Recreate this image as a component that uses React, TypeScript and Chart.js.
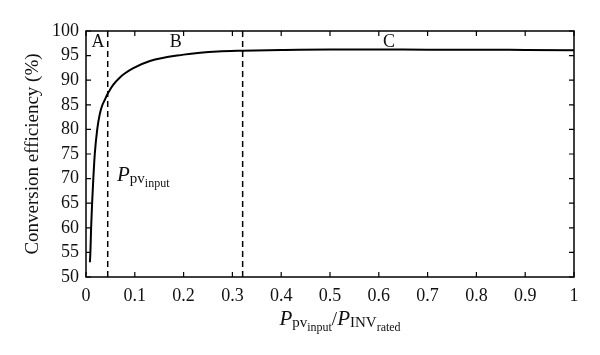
import React, { useEffect, useRef } from "react";
import { Chart, registerables } from "chart.js";

Chart.register(...registerables);

const ratioX = [0.008, 0.009, 0.0105, 0.0125, 0.015, 0.018, 0.023, 0.028, 0.033, 0.039, 0.0436, 0.05, 0.056, 0.07, 0.08, 0.096, 0.131, 0.2, 0.234, 0.27, 0.32, 0.4, 0.5, 0.6, 0.7, 0.8, 0.9, 1.0];
const efficiency = [53, 55, 60, 65, 70, 75, 80, 83, 84.8, 86.1, 87.1, 88.2, 89.1, 90.6, 91.4, 92.4, 93.9, 95.2, 95.6, 95.85, 96.0, 96.15, 96.25, 96.25, 96.2, 96.2, 96.15, 96.1];
const boundaries = [0.0445, 0.321];
const regionLabels = ["A", "B", "C"];
const regionLabelX = [0.0246, 0.184, 0.621];
const yRange = [50, 100];

const SERIF = "'Liberation Serif', 'DejaVu Serif', serif";

type Seg = { t: string; size: number; dy: number; italic?: boolean };

function segWidth(ctx: CanvasRenderingContext2D, segs: Seg[]) {
  let w = 0;
  for (const s of segs) {
    ctx.font = `${s.italic ? "italic " : ""}${s.size}px ${SERIF}`;
    w += ctx.measureText(s.t).width;
  }
  return w;
}

function drawRich(ctx: CanvasRenderingContext2D, x: number, y: number, segs: Seg[]) {
  let cx = x;
  for (const s of segs) {
    ctx.font = `${s.italic ? "italic " : ""}${s.size}px ${SERIF}`;
    ctx.fillText(s.t, cx, y + s.dy);
    cx += ctx.measureText(s.t).width;
  }
}

const decorPlugin = {
  id: "decor",
  afterDraw(chart: any) {
    const ctx: CanvasRenderingContext2D = chart.ctx;
    const { left, right, top, bottom } = chart.chartArea;
    const xs = chart.scales.x;
    const ys = chart.scales.y;
    ctx.save();
    ctx.strokeStyle = "#000";
    ctx.lineWidth = 1.5;
    ctx.strokeRect(left, top, right - left, bottom - top);
    ctx.lineWidth = 1.2;
    const tl = 5;
    ctx.beginPath();
    xs.ticks.forEach((t: any) => {
      const px = xs.getPixelForValue(t.value);
      ctx.moveTo(px, bottom);
      ctx.lineTo(px, bottom - tl);
      ctx.moveTo(px, top);
      ctx.lineTo(px, top + tl);
    });
    ys.ticks.forEach((t: any) => {
      const py = ys.getPixelForValue(t.value);
      ctx.moveTo(left, py);
      ctx.lineTo(left + tl, py);
      ctx.moveTo(right, py);
      ctx.lineTo(right - tl, py);
    });
    ctx.stroke();

    ctx.fillStyle = "#111";
    ctx.textBaseline = "alphabetic";
    ctx.textAlign = "center";
    ctx.font = `18px ${SERIF}`;
    regionLabels.forEach((l, i) => {
      ctx.fillText(l, xs.getPixelForValue(regionLabelX[i]), top + 16);
    });

    ctx.textAlign = "left";
    drawRich(ctx, 117, 181, [
      { t: "P", size: 21, dy: 0, italic: true },
      { t: "pv", size: 15, dy: 2 },
      { t: "input", size: 12, dy: 6 },
    ]);

    const xt: Seg[] = [
      { t: "P", size: 21, dy: 0, italic: true },
      { t: "pv", size: 15, dy: 2 },
      { t: "input", size: 12, dy: 6 },
      { t: "/", size: 19, dy: 0 },
      { t: "P", size: 21, dy: 0, italic: true },
      { t: "INV", size: 15, dy: 2 },
      { t: "rated", size: 12, dy: 6 },
    ];
    const w = segWidth(ctx, xt);
    drawRich(ctx, 340 - w / 2, 325, xt);

    ctx.save();
    ctx.translate(38, (top + bottom) / 2);
    ctx.rotate(-Math.PI / 2);
    ctx.textAlign = "center";
    ctx.font = `19px ${SERIF}`;
    ctx.fillText("Conversion efficiency (%)", 0, 0);
    ctx.restore();
    ctx.restore();
  },
};

export default function App() {
  const ref = useRef<HTMLCanvasElement | null>(null);
  useEffect(() => {
    if (!ref.current) return;
    const datasets: any[] = [
      {
        data: ratioX.map((x, i) => ({ x, y: efficiency[i] })),
        borderColor: "#000",
        borderWidth: 2,
        pointRadius: 0,
        showLine: true,
        cubicInterpolationMode: "monotone",
      },
      ...boundaries.map((b) => ({
        data: [
          { x: b, y: yRange[0] },
          { x: b, y: yRange[1] },
        ],
        borderColor: "#000",
        borderWidth: 1.5,
        borderDash: [6, 4],
        pointRadius: 0,
        showLine: true,
      })),
    ];
    const chart = new Chart(ref.current, {
      type: "scatter",
      data: { datasets },
      options: {
        animation: false,
        responsive: false,
        maintainAspectRatio: false,
        layout: { padding: { top: 31, right: 26, left: 0, bottom: 0 } },
        plugins: { legend: { display: false }, tooltip: { enabled: false } },
        scales: {
          x: {
            type: "linear",
            min: 0,
            max: 1,
            grid: { display: false, drawTicks: false },
            border: { display: false },
            afterFit: (s: any) => {
              s.height = 78;
            },
            ticks: {
              stepSize: 0.1,
              color: "#111",
              padding: 8,
              maxRotation: 0,
              font: { family: SERIF, size: 18 },
              callback: (v: any) => (v === 0 ? "0" : v === 1 ? "1" : Number(v).toFixed(1)),
            },
          },
          y: {
            min: yRange[0],
            max: yRange[1],
            grid: { display: false, drawTicks: false },
            border: { display: false },
            afterFit: (s: any) => {
              s.width = 86;
            },
            ticks: {
              stepSize: 5,
              color: "#111",
              padding: 7,
              font: { family: SERIF, size: 18 },
            },
          },
        },
      },
      plugins: [decorPlugin],
    });
    return () => chart.destroy();
  }, []);
  return (
    <div style={{ position: "fixed", left: 0, top: 0, width: 600, height: 355, background: "#fff" }}>
      <canvas ref={ref} width={600} height={355} style={{ width: 600, height: 355 }} />
    </div>
  );
}
